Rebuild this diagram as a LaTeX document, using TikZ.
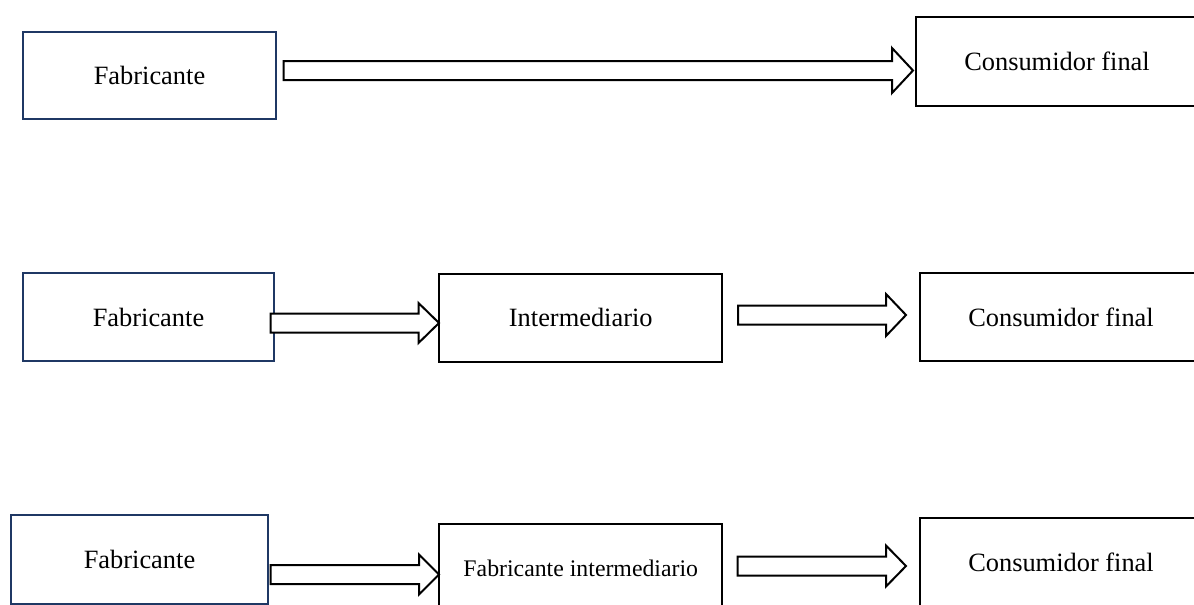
\documentclass[tikz,border=0pt]{standalone}
\usepackage{fontspec}
\setmainfont{Liberation Serif}
\begin{document}
\begin{tikzpicture}[x=1pt,y=-1pt,
  box/.style={draw=black,line width=2pt,fill=white,inner sep=0pt,
    minimum width=283pt,minimum height=88.5pt,
    font=\fontsize{26.4}{30}\selectfont},
  srcbox/.style={box,draw=navy},
  flow/.style={draw=black,line width=2pt,fill=white,line join=miter}]
\definecolor{navy}{RGB}{31,56,100}
% block arrow: start x, tip x, centre y, head length, shaft half-height, head half-height
\newcommand{\blockarrow}[6]{%
  \draw[flow] (#1,#3-#5) -- (#2-#4,#3-#5) -- (#2-#4,#3-#6) -- (#2,#3)
    -- (#2-#4,#3+#6) -- (#2-#4,#3+#5) -- (#1,#3+#5) -- cycle;}
\useasboundingbox (0,0) rectangle (1194,605);
\begin{scope}
\clip (0,0) rectangle (1194,605);

% direct channel
\node[srcbox,minimum width=253pt,minimum height=87.5pt] (f1) at (149.5,75.25) {Fabricante};
\node[box,minimum width=282pt,minimum height=89pt] (c1) at (1057,61.5) {Consumidor final};
\blockarrow{283.5}{913}{70.5}{21}{9.5}{22.5}

% channel through an intermediary
\node[srcbox,minimum width=251pt,minimum height=88pt] (f2) at (148.5,317) {Fabricante};
\node[box] (i2) at (580.75,317.75) {Intermediario};
\node[box,minimum width=282pt,minimum height=88pt] (c2) at (1061,317) {Consumidor final};
\blockarrow{270.5}{439}{323}{20.5}{9.5}{20}
\blockarrow{738}{906}{315}{20}{9.5}{21}

% channel through an intermediate manufacturer
\node[srcbox,minimum width=257pt,minimum height=89pt] (f3) at (139.5,559.5) {Fabricante};
\node[box,minimum height=89pt,font=\fontsize{23.8}{28}\selectfont] (i3) at (580.75,568.5) {Fabricante intermediario};
\node[box,minimum width=282pt,minimum height=89pt] (c3) at (1061,562.5) {Consumidor final};
\blockarrow{270.5}{439}{574.5}{20}{9.5}{20}
\blockarrow{737.5}{906}{566}{20}{9.5}{20.5}
\end{scope}
\end{tikzpicture}
\end{document}
